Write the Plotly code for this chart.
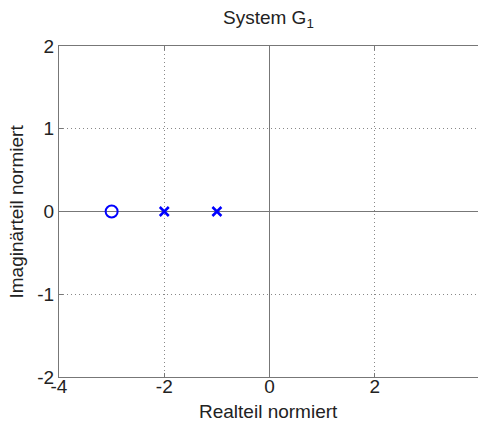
import plotly.graph_objects as go

zeros_re = [-3]
zeros_im = [0]
poles_re = [-2, -1]
poles_im = [0, 0]
x_ticks = [-4, -2, 0, 2]
y_ticks = [-2, -1, 0, 1, 2]

fig = go.Figure()
fig.add_trace(go.Scatter(x=zeros_re, y=zeros_im, mode="markers",
                         marker=dict(symbol="circle-open", size=12, color="#0000ff", line=dict(width=2)),
                         showlegend=False))
fig.add_trace(go.Scatter(x=poles_re, y=poles_im, mode="markers",
                         marker=dict(symbol="x-thin-open", size=9, color="#0000ff", line=dict(width=2.5, color="#0000ff")),
                         showlegend=False))

FAM = "Liberation Sans, Arial, sans-serif"
TXT = "#222"
FS = 19

fig.update_layout(
    width=478, height=423,
    margin=dict(l=59, r=0, t=46, b=46, autoexpand=False),
    paper_bgcolor="white", plot_bgcolor="white",
    font=dict(family=FAM, color=TXT, size=FS),
    xaxis=dict(range=[-4, 3.96], tickvals=x_ticks, ticktext=[str(v) for v in x_ticks],
               showgrid=True, gridcolor="#888", griddash="1px,3px", gridwidth=1,
               zeroline=True, zerolinecolor="#777", zerolinewidth=1,
               showline=True, linecolor="#777", linewidth=1, mirror="ticks",
               ticks="inside", ticklen=4, tickcolor="#777", automargin=False,
               ticklabelstandoff=-8,
               tickfont=dict(size=FS, family=FAM, color=TXT)),
    yaxis=dict(range=[-2, 2], tickvals=y_ticks, ticktext=[str(v) for v in y_ticks],
               showgrid=True, gridcolor="#888", griddash="1px,3px", gridwidth=1,
               zeroline=True, zerolinecolor="#777", zerolinewidth=1,
               showline=True, linecolor="#777", linewidth=1, mirror=False,
               ticks="inside", ticklen=4, tickcolor="#777", automargin=False,
               tickfont=dict(size=FS, family=FAM, color=TXT)),
    annotations=[
        dict(text="System G<sub>1</sub>", xref="paper", yref="paper", x=0.5, y=1,
             yshift=27, xanchor="center", yanchor="middle", showarrow=False,
             font=dict(size=FS, family=FAM, color=TXT)),
        dict(text="Realteil normiert", xref="paper", yref="paper", x=0.5, y=0,
             yshift=-34, xanchor="center", yanchor="middle", showarrow=False,
             font=dict(size=FS, family=FAM, color=TXT)),
        dict(text="Imaginärteil normiert", xref="paper", yref="paper", x=0, y=0.5,
             xshift=-43, textangle=-90, xanchor="center", yanchor="middle", showarrow=False,
             font=dict(size=FS, family=FAM, color=TXT)),
    ],
)

fig.write_html("out.html", config={"displayModeBar": False},
               post_script="document.body.style.margin='0';document.body.style.overflow='hidden';")
